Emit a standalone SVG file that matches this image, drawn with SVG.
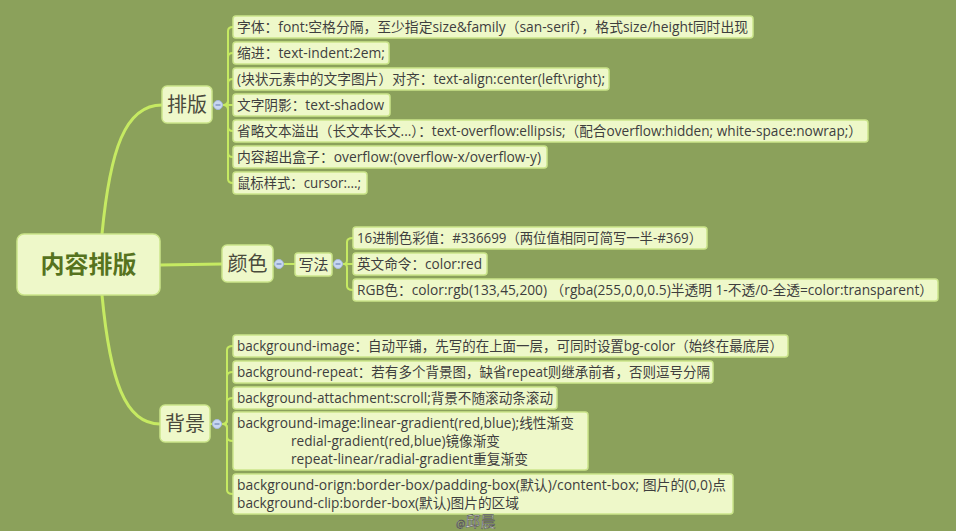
<svg xmlns="http://www.w3.org/2000/svg" width="956" height="531" viewBox="0 0 956 531">
<style>
.bg{fill:#8ba15b}
.leaf{fill:#eef8c9;stroke:#cbe58a;stroke-width:1.5}
.main{fill:#eef8c9;stroke:#cbe58a;stroke-width:1.5}
.lt{font-family:"Open Sans","Noto Sans CJK SC",sans-serif;font-size:14px;fill:#3e3e3e}
.mt{font-family:"Noto Sans CJK SC",sans-serif;font-size:20px;fill:#4a4a3c;text-anchor:middle}
.rt{font-family:"Noto Sans CJK SC",sans-serif;font-size:24px;font-weight:bold;fill:#56731e;text-anchor:middle}
.c1{fill:none;stroke:#c6ea62;stroke-width:3;stroke-linecap:round}
.c2{fill:none;stroke:#c6ea62;stroke-width:2;stroke-linecap:round}
.tog{fill:#c9d7f1;stroke:#a6b9de;stroke-width:1}
.togm{stroke:#6f86b8;stroke-width:1.2}
</style>
<rect class="bg" x="0" y="0" width="956" height="531"/>

<g id="connectors">
  <path class="c1" d="M102 234 C110 150 125 105 162 105"/>
  <path class="c1" d="M160 265 L222 264"/>
  <path class="c1" d="M102 295 C110 380 125 424 160 424"/>
  <path class="c2" d="M212 105 H214"/>
  <path class="c2" d="M222 105 H224 Q228 105 228 101 V31 Q228 27 233 27"/>
  <path class="c2" d="M222 105 H224 Q228 105 228 101 V57 Q228 53 233 53"/>
  <path class="c2" d="M222 105 H224 Q228 105 228 101 V83 Q228 79 233 79"/>
  <path class="c2" d="M222 105 H233"/>
  <path class="c2" d="M222 105 H224 Q228 105 228 109 V127 Q228 131 233 131"/>
  <path class="c2" d="M222 105 H224 Q228 105 228 109 V153 Q228 157 233 157"/>
  <path class="c2" d="M222 105 H224 Q228 105 228 109 V179 Q228 183 233 183"/>
  <path class="c2" d="M273 264 H275"/>
  <path class="c2" d="M283 264 H295"/>
  <path class="c2" d="M332 264 H334"/>
  <path class="c2" d="M342 264 H344 Q347 264 347 260 V242 Q347 238 353 238"/>
  <path class="c2" d="M342 264 H353"/>
  <path class="c2" d="M342 264 H344 Q347 264 347 268 V286 Q347 290 353 290"/>
  <path class="c2" d="M210 424 H213"/>
  <path class="c2" d="M221 424 H223 Q227 424 227 420 V350 Q227 346 233 346"/>
  <path class="c2" d="M221 424 H223 Q227 424 227 420 V376 Q227 372 233 372"/>
  <path class="c2" d="M221 424 H223 Q227 424 227 420 V402 Q227 398 233 398"/>
  <path class="c2" d="M221 424 H223 Q227 424 227 428 V437 Q227 441 233 441"/>
  <path class="c2" d="M221 424 H223 Q227 424 227 428 V490 Q227 494 233 494"/>
</g>

<g id="root">
  <rect class="main" x="17" y="234" width="143" height="61" rx="7"/>
  <text class="rt" x="88.5" y="273">内容排版</text>
</g>

<g id="paiban">
  <rect class="main" x="162" y="86" width="50" height="37" rx="5"/>
  <text class="mt" x="187" y="111.5">排版</text>
  <circle class="tog" cx="218" cy="105" r="4.5"/>
  <line class="togm" x1="215.5" y1="105" x2="220.5" y2="105"/>
</g>
<g id="pb1"><rect class="leaf" x="233" y="16" width="520" height="22" rx="3"/><text class="lt" x="237" y="32" textLength="511" lengthAdjust="spacingAndGlyphs">字体：font:空格分隔，至少指定size&amp;family（san-serif），格式size/height同时出现</text></g>
<g id="pb2"><rect class="leaf" x="233" y="42" width="156" height="22" rx="3"/><text class="lt" x="237" y="58" textLength="148" lengthAdjust="spacingAndGlyphs">缩进：text-indent:2em;</text></g>
<g id="pb3"><rect class="leaf" x="233" y="68" width="376" height="22" rx="3"/><text class="lt" x="237" y="84" textLength="368" lengthAdjust="spacingAndGlyphs">(块状元素中的文字图片）对齐：text-align:center(left\right);</text></g>
<g id="pb4"><rect class="leaf" x="233" y="94" width="157" height="22" rx="3"/><text class="lt" x="237" y="110" textLength="147" lengthAdjust="spacingAndGlyphs">文字阴影：text-shadow</text></g>
<g id="pb5"><rect class="leaf" x="233" y="120" width="635" height="22" rx="3"/><text class="lt" x="237" y="136" textLength="625" lengthAdjust="spacingAndGlyphs">省略文本溢出（长文本长文...）：text-overflow:ellipsis;（配合overflow:hidden; white-space:nowrap;）</text></g>
<g id="pb6"><rect class="leaf" x="233" y="146" width="314" height="22" rx="3"/><text class="lt" x="237" y="162" textLength="304" lengthAdjust="spacingAndGlyphs">内容超出盒子：overflow:(overflow-x/overflow-y)</text></g>
<g id="pb7"><rect class="leaf" x="233" y="172" width="134" height="22" rx="3"/><text class="lt" x="237" y="188" textLength="124" lengthAdjust="spacingAndGlyphs">鼠标样式：cursor:...;</text></g>

<g id="yanse">
  <rect class="main" x="222" y="245" width="51" height="37" rx="5"/>
  <text class="mt" x="247.5" y="270.5">颜色</text>
  <circle class="tog" cx="279" cy="264" r="4.5"/>
  <line class="togm" x1="276.5" y1="264" x2="281.5" y2="264"/>
</g>
<g id="xiefa">
  <rect class="main" x="295" y="253" width="37" height="23" rx="3"/>
  <text class="lt" x="313.5" y="269.5" style="text-anchor:middle;font-size:15px">写法</text>
  <circle class="tog" cx="338" cy="264" r="4.5"/>
  <line class="togm" x1="335.5" y1="264" x2="340.5" y2="264"/>
</g>
<g id="ys1"><rect class="leaf" x="353" y="227" width="354" height="22" rx="3"/><text class="lt" x="357" y="243" textLength="345" lengthAdjust="spacingAndGlyphs">16进制色彩值：#336699（两位值相同可简写一半-#369）</text></g>
<g id="ys2"><rect class="leaf" x="353" y="253" width="134" height="22" rx="3"/><text class="lt" x="357" y="269" textLength="125" lengthAdjust="spacingAndGlyphs">英文命令：color:red</text></g>
<g id="ys3"><rect class="leaf" x="353" y="279" width="585" height="22" rx="3"/><text class="lt" x="357" y="295" textLength="576" lengthAdjust="spacingAndGlyphs">RGB色：color:rgb(133,45,200) （rgba(255,0,0,0.5)半透明 1-不透/0-全透=color:transparent）</text></g>

<g id="beijing">
  <rect class="main" x="160" y="405" width="50" height="37" rx="5"/>
  <text class="mt" x="185" y="430.5">背景</text>
  <circle class="tog" cx="217" cy="424" r="4.5"/>
  <line class="togm" x1="214.5" y1="424" x2="219.5" y2="424"/>
</g>
<g id="bj1"><rect class="leaf" x="233" y="335" width="555" height="22" rx="3"/><text class="lt" x="237" y="351" textLength="546" lengthAdjust="spacingAndGlyphs">background-image：自动平铺，先写的在上面一层，可同时设置bg-color（始终在最底层）</text></g>
<g id="bj2"><rect class="leaf" x="233" y="361" width="480" height="22" rx="3"/><text class="lt" x="237" y="377" textLength="473" lengthAdjust="spacingAndGlyphs">background-repeat：若有多个背景图，缺省repeat则继承前者，否则逗号分隔</text></g>
<g id="bj3"><rect class="leaf" x="233" y="387" width="324" height="22" rx="3"/><text class="lt" x="237" y="403" textLength="316" lengthAdjust="spacingAndGlyphs">background-attachment:scroll;背景不随滚动条滚动</text></g>
<g id="bj4"><rect class="leaf" x="233" y="412" width="355" height="58" rx="3"/><text class="lt" x="237" y="428" textLength="337" lengthAdjust="spacingAndGlyphs">background-image:linear-gradient(red,blue);线性渐变</text><text class="lt" x="291" y="446" textLength="209" lengthAdjust="spacingAndGlyphs">redial-gradient(red,blue)镜像渐变</text><text class="lt" x="291" y="464" textLength="237" lengthAdjust="spacingAndGlyphs">repeat-linear/radial-gradient重复渐变</text></g>
<g id="bj5"><rect class="leaf" x="233" y="474" width="500" height="40" rx="3"/><text class="lt" x="237" y="490" textLength="489" lengthAdjust="spacingAndGlyphs">background-orign:border-box/padding-box(默认)/content-box; 图片的(0,0)点</text><text class="lt" x="237" y="508" textLength="282" lengthAdjust="spacingAndGlyphs">background-clip:border-box(默认)图片的区域</text></g>

<text x="456" y="526.5" style="font-family:'Noto Sans CJK SC',sans-serif;fill:#f2f2f2;stroke:#555;stroke-width:0.6"><tspan font-size="10">@</tspan><tspan font-size="15">邱晨</tspan></text>
</svg>
